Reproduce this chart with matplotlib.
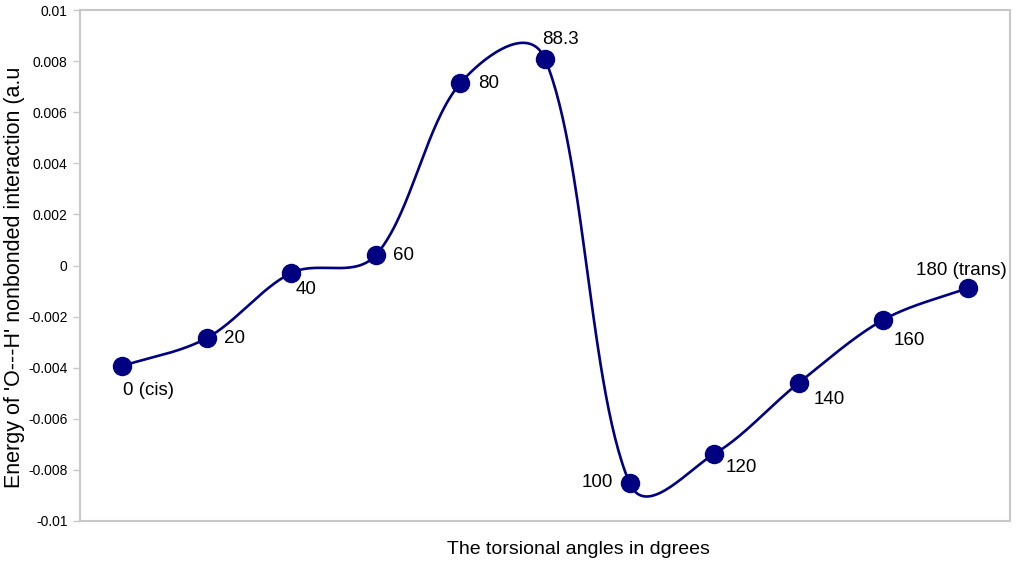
import numpy as np
import matplotlib
matplotlib.use("Agg")
import matplotlib.pyplot as plt

plt.rcParams['font.family'] = ['Liberation Sans', 'DejaVu Sans']

# data
labels = ['0 (cis)', '20', '40', '60', '80', '88.3', '100', '120', '140', '160', '180 (trans)']
energy = [-0.00393, -0.00284, -0.00029, 0.00041, 0.00714, 0.00808,
          -0.00851, -0.00738, -0.00460, -0.00213, -0.00088]
# label offsets in pixels (dx, dy) and alignment
label_off = [(1, -25, 'left'), (17, 0, 'left'), (4, -17, 'left'), (17, 0, 'left'),
             (18, 0, 'left'), (-3, 20, 'left'), (-17, 0, 'right'), (12, -13, 'left'),
             (15, -16, 'left'), (10, -21, 'left'), (-52, 17, 'left')]
yticks = np.arange(-0.01, 0.0101, 0.002)

navy = '#000080'
grey = '#c8c8c8'


def excel_smooth(x, y, sx, sy, n=60, w=0.35):
    # bezier smoothing similar to Excel's "smoothed line", in pixel units
    # w blends plain catmull-rom tangents with distance-weighted ones
    P = np.column_stack([np.asarray(x, float) * sx, np.asarray(y, float) * sy])
    m = len(P)
    out = []
    t = np.linspace(0, 1, n)[:, None]
    for i in range(m - 1):
        p0, p3 = P[i], P[i + 1]
        d = np.linalg.norm(p3 - p0)
        a = P[i - 1] if i > 0 else p0
        b = P[i + 2] if i + 2 < m else p3
        da = np.linalg.norm(p0 - a)
        db = np.linalg.norm(b - p3)
        k1 = w / 6 + (1 - w) * d / (da + d) / 3
        k2 = w / 6 + (1 - w) * d / (d + db) / 3
        c1 = p0 + (p3 - a) * k1
        c2 = p3 - (b - p0) * k2
        seg = ((1 - t) ** 3) * p0 + 3 * ((1 - t) ** 2) * t * c1 + 3 * (1 - t) * t ** 2 * c2 + t ** 3 * p3
        out.append(seg)
    out = np.vstack(out)
    return out[:, 0] / sx, out[:, 1] / sy


fig = plt.figure(figsize=(10.24, 5.63), dpi=100)
ax = fig.add_axes([80 / 1024, 42 / 563, 930 / 1024, 511 / 563])

x = np.arange(len(energy))
sx_, sy_ = excel_smooth(x, energy, 84.5, 25550)
ax.plot(sx_, sy_, color=navy, lw=1.9, solid_capstyle='round', zorder=2)
ax.plot(x, energy, 'o', color=navy, ms=13, zorder=3)

for xi, yi, lab, (dx, dy, ha) in zip(x, energy, labels, label_off):
    ax.annotate(lab, (xi, yi), xytext=(dx, dy), textcoords='offset pixels',
                ha=ha, va='center', fontsize=13.5, color='black')

ax.set_xlim(-0.5, len(energy) - 0.5)
ax.set_ylim(-0.01, 0.01)
ax.set_xticks([])
ax.set_yticks(yticks)
ax.set_yticklabels(['{:g}'.format(round(v, 3)) for v in yticks])
ax.tick_params(axis='y', direction='out', length=5, width=1, color=grey,
               labelsize=10, pad=4)
for s in ax.spines.values():
    s.set_color(grey)
    s.set_linewidth(1.5)

fig.text(15 / 1024, (563 - 277) / 563, "Energy of 'O---H' nonbonded interaction (a.u",
         rotation=90, ha='center', va='center', fontsize=15.5)
fig.text(578 / 1024, 14 / 563, 'The torsional angles in dgrees',
         ha='center', va='center', fontsize=14)

fig.savefig('out.png', dpi=100)
